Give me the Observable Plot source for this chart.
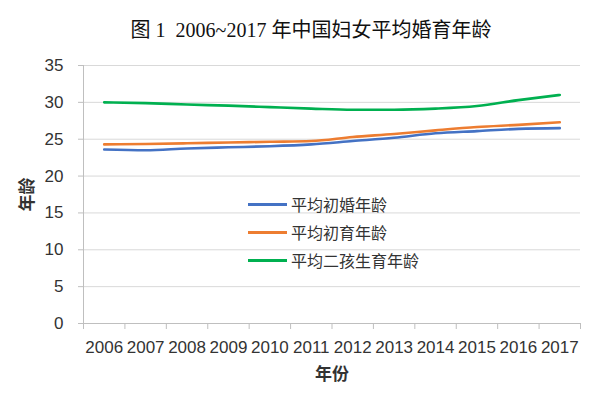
<!DOCTYPE html>
<html><head><meta charset="utf-8">
<script src="https://cdn.jsdelivr.net/npm/d3@7"></script>
<script src="https://cdn.jsdelivr.net/npm/@observablehq/plot@0.6"></script>
<style>
body{margin:0;background:#fff;}
#wrap{position:relative;width:600px;height:397px;overflow:hidden;}
#title{position:absolute;left:0;top:18px;width:622px;text-align:center;font-size:20px;font-family:"Liberation Serif","Noto Sans CJK SC",serif;color:#111;line-height:24px;white-space:nowrap;}
#legend{position:absolute;left:248px;top:190px;font-family:"Noto Sans CJK SC",sans-serif;font-size:16px;color:#333;}
#legend .row{display:flex;align-items:center;height:28px;}
#legend .sw{width:39px;height:3px;margin-right:4px;}
[aria-label="y-axis label"] text,[aria-label="x-axis label"] text{font-weight:bold;font-family:"Noto Sans CJK SC",sans-serif;}
</style></head>
<body><div id="wrap"><div id="title">图 1&nbsp; 2006~2017 年中国妇女平均婚育年龄</div><div id="legend"></div></div>
<script>
const years = [2006,2007,2008,2009,2010,2011,2012,2013,2014,2015,2016,2017];
const firstMarriage = [23.6,23.5,23.75,23.9,24.05,24.3,24.75,25.2,25.8,26.1,26.4,26.5];
const firstBirth = [24.3,24.35,24.45,24.55,24.65,24.75,25.3,25.7,26.2,26.65,26.95,27.3];
const secondBirth = [30.0,29.9,29.7,29.55,29.35,29.15,29.0,29.0,29.15,29.5,30.3,31.0];
const seriesNames = ["平均初婚年龄","平均初育年龄","平均二孩生育年龄"];
const seriesColors = ["#4472C4","#ED7D31","#00B050"];
const yTicks = [0,5,10,15,20,25,30,35];

const seriesValues = [firstMarriage, firstBirth, secondBirth];
const rows = seriesNames.flatMap((name, i) => years.map((yr, j) => ({year: yr, value: seriesValues[i][j], series: name})));
const boundaries = [...years.map(y => y - 0.5), years[years.length-1] + 0.5];
const xMin = boundaries[0], xMax = boundaries[boundaries.length-1];

const chart = Plot.plot({
  width: 600, height: 397,
  marginLeft: 83, marginRight: 20, marginTop: 65, marginBottom: 74,
  style: {fontFamily: '"Liberation Sans","Noto Sans CJK SC",sans-serif', fontSize: "17px", color: "#333", background: "transparent"},
  x: {type: "linear", domain: [xMin, xMax]},
  y: {domain: [0, 35]},
  color: {domain: seriesNames, range: seriesColors},
  marks: [
    Plot.gridY(yTicks.slice(1), {stroke: "#d9d9d9", strokeOpacity: 1}),
    Plot.ruleY([0], {stroke: "#bfbfbf"}),
    Plot.ruleX([xMin], {stroke: "#bfbfbf"}),
    Plot.axisY(yTicks, {tickSize: 5, tickPadding: 15, stroke: "#bfbfbf", fill: "#333", label: "年龄", labelAnchor: "center", labelArrow: "none", labelOffset: 63, fontSize: 17}),
    Plot.axisX(boundaries, {tickSize: 6, tickFormat: () => "", stroke: "#bfbfbf", label: null}),
    Plot.axisX(years, {tickSize: 0, tickPadding: 17, tickFormat: d => String(d), fill: "#333", label: "年份", labelAnchor: "center", labelArrow: "none", labelOffset: 56, fontSize: 17}),
    Plot.line(rows, {x: "year", y: "value", z: "series", stroke: "series", strokeWidth: 2.6, curve: "monotone-x"})
  ]
});
document.getElementById("wrap").prepend(chart);
chart.style.position = "absolute"; chart.style.left = "0"; chart.style.top = "0";

const legend = document.getElementById("legend");
seriesNames.forEach((name, i) => {
  const row = document.createElement("div"); row.className = "row";
  const sw = document.createElement("span"); sw.className = "sw"; sw.style.background = seriesColors[i];
  const t = document.createElement("span"); t.textContent = name;
  row.append(sw, t); legend.append(row);
});
</script>
</body></html>
